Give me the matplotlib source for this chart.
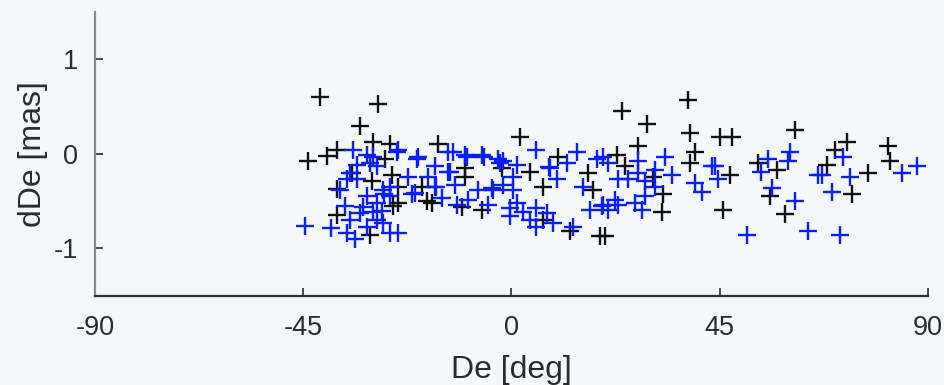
import matplotlib.pyplot as plt
import numpy as np

# declination residuals, first solution (black)
de_black = [-41.4, -28.8, -32.7, -29.9, -37.8, -39.9, -44.0, -26.3, -27.3, -34.5,
            -25.9, -37.8, -30.2, -25.6, -37.8, -30.6, -15.8, -10.0, -10.0, -19.4,
            -24.5, -24.5, -17.2, -10.8, -6.4, -2.1, -18.3, 1.8, 4.0, 10.1,
            6.9, 16.6, 17.7, 6.9, 12.6, 19.1, 38.2, 23.8, 29.2, 38.6,
            27.4, 39.6, 38.6, 22.7, 24.5, 30.6, 32.8, 32.5, 20.2, 45.1,
            47.6, 61.3, 47.2, 53.3, 57.3, 55.9, 45.8, 59.1, 72.4, 69.9,
            81.4, 81.8, 68.1, 77.1, 73.5]
dde_black = [0.60, 0.53, 0.29, 0.12, 0.04, -0.02, -0.08, 0.10, -0.06, -0.20,
             -0.22, -0.37, -0.29, -0.55, -0.65, -0.86, 0.10, -0.15, -0.24, -0.35,
             -0.35, -0.52, -0.52, -0.56, -0.59, -0.15, -0.50, 0.18, -0.19, -0.03,
             -0.35, -0.20, -0.38, -0.70, -0.82, -0.87, 0.57, 0.45, 0.32, 0.22,
             0.08, 0.02, -0.10, -0.01, -0.13, -0.24, -0.42, -0.61, -0.87, 0.18,
             0.18, 0.25, -0.22, -0.10, -0.17, -0.45, -0.59, -0.64, 0.13, 0.04,
             0.08, -0.08, -0.12, -0.20, -0.42]

# second solution (blue)
de_blue = [-44.6, -38.9, -35.6, -33.8, -31.3, -29.1, -26.3, -37.1, -33.4, -31.3,
           -29.1, -34.2, -31.3, -33.4, -29.1, -24.8, -26.3, -32.7, -29.9, -24.5,
           -20.2, -13.7, -10.0, -6.4, -2.9, -22.4, -13.7, -16.5, -12.2, -20.9,
           -15.1, -4.3, -5.0, -24.5, -20.5, -12.6, -9.6, -6.0, -2.4, -13.2,
           -16.3, -21.4, -11.8, -0.3, 0.4, -3.9, 5.4, 14.1, 19.8, -1.8,
           1.1, 8.0, 11.9, -1.8, 9.8, 1.1, 5.4, -0.3, 4.0, 9.0,
           17.0, 19.5, 13.4, 5.4, 33.2, 34.6, 27.4, 20.9, 25.2, 28.8,
           28.8, 23.1, 20.9, 28.1, 39.6, 41.1, 43.3, 44.0, 44.7, 55.5,
           60.2, 59.8, 54.0, 56.2, 61.3, 50.8, 64.1, 66.3, 71.7, 67.0,
           73.1, 84.3, 87.6, 69.2, 71.0, -36.0, -28.0, -35.0, -30.5, -27.5,
           8.3, 19.8, 2.5, 15.5, 0.4, 18.4, 7.6, 23.1, 27.4, 31.0,
           22.4, 26.7, 31.0, -35.6, -27.7, -34.9, -32.0, -29.9, -26.3, -27.7,
           -16.5, -7.2, -9.3, -18.0]
dde_blue = [-0.76, -0.78, -0.84, -0.90, -0.77, -0.70, -0.84, -0.38, -0.27, -0.45,
            -0.52, 0.04, -0.01, -0.12, -0.13, 0.02, -0.35, -0.63, -0.62, 0.04,
            -0.03, 0.02, -0.01, -0.01, -0.06, -0.24, -0.19, -0.35, -0.33, -0.41,
            -0.47, -0.36, -0.54, -0.84, -0.05, 0.02, -0.03, -0.03, -0.10, -0.19,
            -0.35, -0.43, -0.54, -0.57, -0.38, -0.38, 0.04, 0.02, -0.03, -0.08,
            -0.12, -0.14, -0.10, -0.33, -0.27, -0.52, -0.57, -0.66, -0.70, -0.73,
            -0.59, -0.55, -0.77, -0.77, -0.03, -0.22, -0.08, -0.10, -0.27, -0.29,
            -0.45, -0.54, -0.59, -0.59, -0.31, -0.40, -0.13, -0.13, -0.27, -0.05,
            0.02, -0.08, -0.19, -0.36, -0.50, -0.86, -0.82, -0.22, -0.03, -0.22,
            -0.24, -0.20, -0.13, -0.40, -0.86, -0.55, -0.60, -0.20, -0.10, -0.42,
            -0.15, -0.54, -0.61, -0.35, -0.24, -0.06, -0.63, -0.27, -0.20, -0.35,
            -0.49, -0.52, -0.17, -0.27, -0.38, -0.70, -0.56, -0.03, -0.45, -0.73,
            -0.13, -0.38, -0.49, -0.24]

xticks = [-90, -45, 0, 45, 90]
yticks = [-1, 0, 1]

plt.rcParams['font.family'] = ['Liberation Sans', 'DejaVu Sans']
plt.rcParams['axes.unicode_minus'] = False
bg = '#f5f8fb'
txt = '#2b2b2b'

fig = plt.figure(figsize=(9.45, 3.85), dpi=100, facecolor=bg)
ax = fig.add_axes([0.1005, 0.232, 0.8815, 0.737], facecolor=bg)

ax.plot(de_black, dde_black, '+', color='#111111', ms=13, mew=1.7)
ax.plot(de_blue, dde_blue, '+', color='#0a1eff', ms=13, mew=1.7)

ax.set_xlim(-90, 90)
ax.set_ylim(-1.5, 1.5)
ax.set_xticks(xticks)
ax.set_yticks(yticks)
ax.tick_params(direction='in', length=6, width=1.2, colors=txt, labelsize=19.5)
ax.tick_params(axis='x', pad=14)
ax.tick_params(axis='y', pad=12)
for s in ['top', 'right']:
    ax.spines[s].set_visible(False)
ax.spines['left'].set_color('#8a8a8a')
ax.spines['left'].set_linewidth(1.6)
ax.spines['bottom'].set_color('#333333')
ax.spines['bottom'].set_linewidth(1.6)

ax.set_xlabel('De [deg]', fontsize=23, color=txt, labelpad=10)
ax.set_ylabel('dDe [mas]', fontsize=23, color=txt, labelpad=4)

fig.savefig('out.png', dpi=100, facecolor=bg)
